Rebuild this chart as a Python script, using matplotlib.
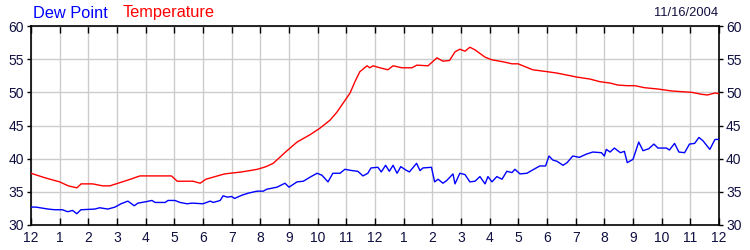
import matplotlib
matplotlib.use("Agg")
import matplotlib.pyplot as plt

plt.rcParams['font.family'] = ['Liberation Sans', 'DejaVu Sans']

temp_hours = [0, 0.5, 1.0, 1.3, 1.6, 1.75, 2.15, 2.5, 2.75, 3.4, 3.8, 4.9, 5.1, 5.65, 5.9,
              6.1, 6.75, 7.35, 7.9, 8.2, 8.45, 8.93, 9.28, 9.73, 10.08, 10.43, 10.67,
              11.13, 11.3, 11.47, 11.72, 11.82, 11.93, 12.17, 12.45, 12.63, 12.94, 13.29,
              13.46, 13.85, 14.16, 14.37, 14.6, 14.79, 14.96, 15.14, 15.31, 15.49, 15.84,
              16.08, 16.47, 16.78, 16.99, 17.5, 18.03, 18.35, 19.04, 19.5, 19.85, 20.2,
              20.47, 20.8, 21.07, 21.4, 21.87, 22.36, 23.05, 23.4, 23.6, 23.86, 24.0]
temperature = [37.8, 37.1, 36.5, 35.9, 35.6, 36.2, 36.2, 35.9, 35.9, 36.8, 37.4, 37.4, 36.6,
               36.6, 36.3, 36.9, 37.7, 38.0, 38.4, 38.8, 39.3, 41.2, 42.5, 43.6, 44.6, 45.8,
               47.0, 49.9, 51.6, 53.1, 54.0, 53.7, 54.0, 53.7, 53.4, 54.0, 53.7, 53.7, 54.1,
               54.0, 55.2, 54.7, 54.8, 56.1, 56.5, 56.2, 56.8, 56.4, 55.3, 54.9, 54.6, 54.3,
               54.3, 53.4, 53.1, 52.9, 52.3, 52.0, 51.6, 51.4, 51.1, 51.0, 51.0, 50.7, 50.5,
               50.2, 50.0, 49.7, 49.6, 49.9, 49.8]

dew_hours = [0, 0.17, 0.6, 0.83, 1.1, 1.28, 1.45, 1.6, 1.74, 2.22, 2.4, 2.68, 2.93, 3.14,
             3.38, 3.6, 3.73, 4.0, 4.22, 4.33, 4.68, 4.78, 5.02, 5.2, 5.44, 5.62, 6.0, 6.25,
             6.36, 6.6, 6.7, 6.85, 7.0, 7.1, 7.36, 7.58, 7.88, 8.1, 8.23, 8.58, 8.86, 9.0,
             9.28, 9.5, 9.73, 9.98, 10.15, 10.36, 10.53, 10.78, 10.95, 11.2, 11.4, 11.58,
             11.75, 11.86, 12.1, 12.22, 12.37, 12.5, 12.63, 12.77, 12.9, 13.07, 13.2, 13.45,
             13.57, 13.67, 13.97, 14.08, 14.2, 14.37, 14.5, 14.72, 14.79, 14.96, 15.14,
             15.31, 15.49, 15.66, 15.84, 15.94, 16.08, 16.25, 16.43, 16.6, 16.78, 16.88,
             17.06, 17.3, 17.5, 17.75, 17.95, 18.07, 18.2, 18.35, 18.56, 18.7, 18.9, 19.13,
             19.38, 19.6, 19.9, 20.0, 20.07, 20.2, 20.35, 20.56, 20.7, 20.8, 21.0, 21.13,
             21.2, 21.35, 21.55, 21.73, 21.87, 22.17, 22.27, 22.45, 22.6, 22.8, 22.97,
             23.15, 23.3, 23.44, 23.68, 23.86, 24.0]
dew_point = [32.7, 32.7, 32.4, 32.3, 32.3, 32.0, 32.2, 31.7, 32.3, 32.4, 32.6, 32.4, 32.7,
             33.2, 33.6, 32.9, 33.3, 33.5, 33.7, 33.4, 33.4, 33.7, 33.7, 33.4, 33.2, 33.3,
             33.2, 33.6, 33.4, 33.7, 34.4, 34.2, 34.3, 34.0, 34.5, 34.8, 35.1, 35.1, 35.4,
             35.7, 36.3, 35.7, 36.5, 36.6, 37.2, 37.8, 37.5, 36.5, 37.8, 37.8, 38.4, 38.2,
             38.1, 37.4, 37.8, 38.6, 38.7, 38.0, 39.0, 38.1, 39.0, 37.8, 38.8, 38.3, 38.0,
             39.3, 38.2, 38.6, 38.7, 36.5, 36.9, 36.3, 36.7, 37.7, 36.2, 37.8, 37.6, 36.5,
             36.6, 37.3, 36.2, 37.3, 36.5, 37.3, 36.9, 38.1, 37.9, 38.4, 37.7, 37.8, 38.3,
             38.9, 38.9, 40.4, 39.8, 39.6, 39.0, 39.4, 40.4, 40.2, 40.7, 41.0, 40.9, 40.4,
             41.4, 41.0, 41.6, 40.9, 41.1, 39.4, 39.9, 41.6, 42.5, 41.2, 41.5, 42.2, 41.6,
             41.6, 41.3, 42.3, 41.0, 40.9, 42.2, 42.3, 43.2, 42.7, 41.4, 42.9, 42.9]

tick_labels = ['12', '1', '2', '3', '4', '5', '6', '7', '8', '9', '10', '11',
               '12', '1', '2', '3', '4', '5', '6', '7', '8', '9', '10', '11', '12']
y_ticks = [30, 35, 40, 45, 50, 55, 60]
date_text = '11/16/2004'

text_color = '#101040'

fig = plt.figure(figsize=(7.5, 2.5), dpi=100)
ax = fig.add_axes([31/750, 1 - 225/250, (719 - 31)/750, (225 - 26)/250])

ax.plot(temp_hours, temperature, color='#ff0000', lw=1.0, zorder=3)
ax.plot(dew_hours, dew_point, color='#0000ff', lw=1.0, zorder=3)

ax.set_xlim(0, 24)
ax.set_ylim(30, 60)
ax.set_xticks(range(25))
ax.set_xticklabels(tick_labels)
ax.set_yticks(y_ticks)
ax.grid(True, color='#cccccc', lw=1.0)
ax.set_axisbelow(True)

ax.tick_params(axis='x', direction='in', length=5, width=1, top=True, bottom=True,
               labelsize=10, colors='black', labelcolor=text_color, pad=4)
ax.tick_params(axis='y', direction='out', length=3, width=1, left=True, right=True,
               labelleft=True, labelright=True, labelsize=10, labelcolor=text_color, pad=2)

for s in ax.spines.values():
    s.set_color('black')
    s.set_linewidth(1.2)

fig.text(33/750, 1 - 13/250, 'Dew Point', color='#0000ff', fontsize=11.8, va='center', ha='left')
fig.text(123/750, 1 - 13/250, 'Temperature', color='#ff0000', fontsize=11.8, va='center', ha='left')
fig.text(718/750, 1 - 13/250, date_text, color=text_color, fontsize=9.3, va='center', ha='right')

fig.savefig('out.png', dpi=100)
